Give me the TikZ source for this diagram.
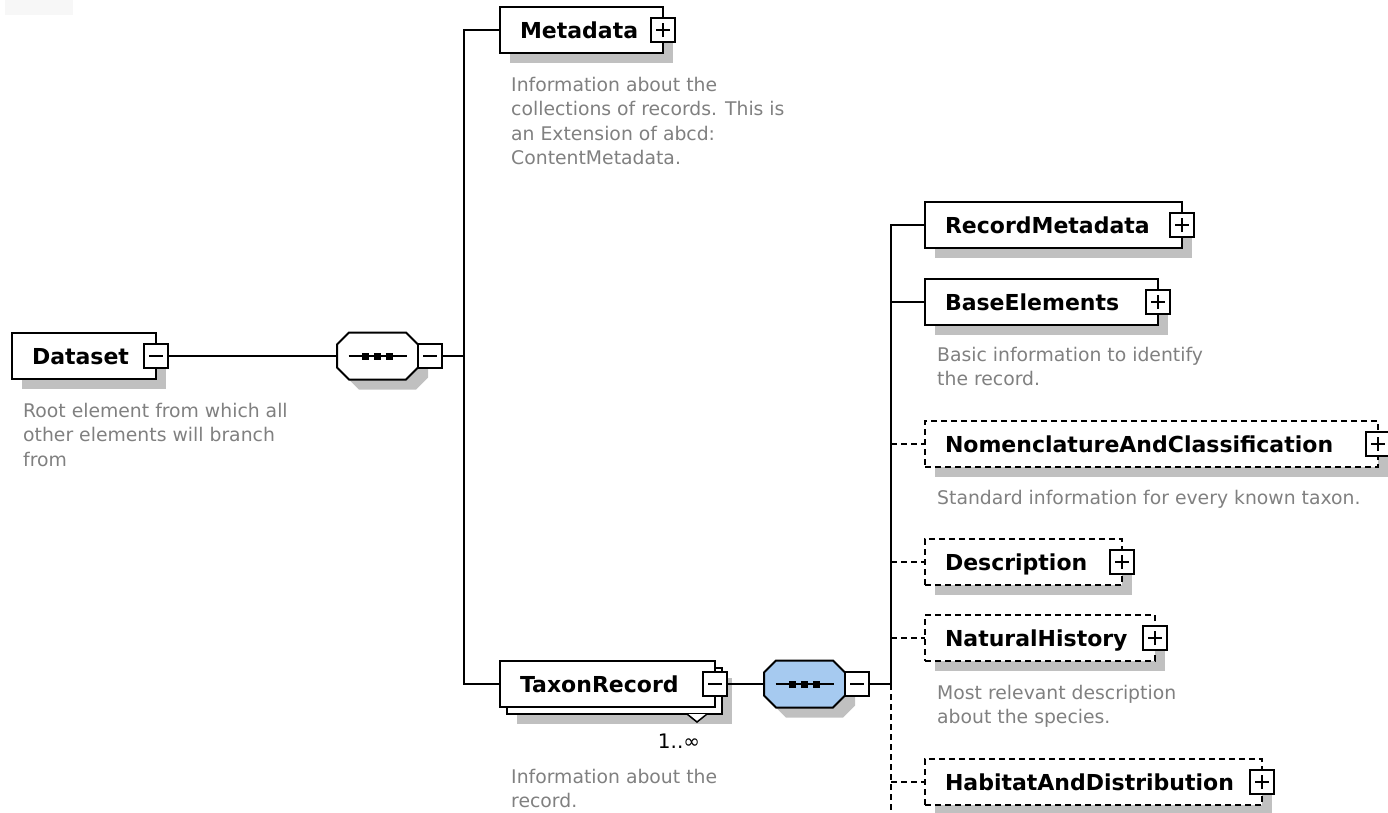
\documentclass[tikz,border=0pt]{standalone}
\usepackage{fontspec}
\setmainfont{DejaVu Sans}
\usetikzlibrary{shadows}

\definecolor{shgrey}{RGB}{192,192,192}
\definecolor{descgrey}{RGB}{128,128,128}
\definecolor{seqblue}{RGB}{166,202,240}
\definecolor{cornergrey}{RGB}{247,247,247}

% outline of a sequence compositor, left end at the origin
\newcommand\octoutline{(0,-11.5) -- ++(12,-12) -- ++(57,0) -- ++(12,12) -- ++(0,23) -- ++(-12,12) -- ++(-57,0) -- ++(-12,-12) -- cycle}

\tikzset{
  conn/.style={line width=2pt},
  optconn/.style={line width=2pt, dash pattern=on 6pt off 4pt},
  boxshadow/.style={drop shadow={shadow xshift=10pt, shadow yshift=-10pt, fill=shgrey, opacity=1}},
  elemplain/.style={draw, line width=2pt, fill=white, anchor=west, minimum height=46pt,
    inner xsep=20pt, inner ysep=0pt, outer sep=0pt, text height=16pt, text depth=0pt,
    align=left, font=\fontsize{22}{26}\selectfont\bfseries},
  elem/.style={elemplain, boxshadow},
  optelem/.style={elem, dash pattern=on 6pt off 4pt},
  togglebox/.style={draw, fill=white, line width=2pt, minimum size=24pt, inner sep=0pt, outer sep=0pt},
  toggleminus/.style={togglebox,
    path picture={\draw[line width=2pt] ([xshift=-7pt]path picture bounding box.center) -- ([xshift=7pt]path picture bounding box.center);}},
  toggleplus/.style={togglebox,
    path picture={\draw[line width=2pt] ([xshift=-7pt]path picture bounding box.center) -- ([xshift=7pt]path picture bounding box.center)
      ([yshift=-7pt]path picture bounding box.center) -- ([yshift=7pt]path picture bounding box.center);}},
  seqmark/.style={rectangle, minimum width=81pt, minimum height=47pt, inner sep=0pt, outer sep=0pt, anchor=west,
    path picture={
      \draw[line width=2pt] ([xshift=-29pt]path picture bounding box.center) -- ([xshift=29pt]path picture bounding box.center);
      \foreach \dx in {-15.5,-3.5,8.5}{
        \fill ([xshift=\dx pt, yshift=-3.5pt]path picture bounding box.center) rectangle ++(7pt,7pt);}
    }},
  desc/.style={anchor=base west, align=left, inner sep=0pt, text=descgrey,
    font=\fontsize{18.8}{24.5}\selectfont},
}

\begin{document}
\begin{tikzpicture}[x=1pt,y=-1pt]
\useasboundingbox (0,0) rectangle (1388,812);
\fill[cornergrey] (5,0) rectangle (73,15);

% root element and its sequence
\node[elem, text width=104pt] (dataset) at (12,356) {Dataset};
\node[toggleminus] (dataset-tg) at (dataset.east) {};
\node[desc] (dataset-doc) at (23,466) {Root element from which all\\other elements will branch\\from};

\fill[shgrey, shift={(347,366)}] \octoutline;
\draw[conn, fill=white, shift={(337,356)}] \octoutline;
\node[seqmark] (seq1) at (337,356) {};
\node[toggleminus, anchor=west] (seq1-tg) at (seq1.east) {};

% children of Dataset
\node[elem, text width=123pt] (metadata) at (500,30) {Metadata};
\node[toggleplus] (metadata-tg) at (metadata.east) {};
\node[desc] (metadata-doc) at (511,164.5) {Information about the\\collections of records. This is\\an Extension of abcd:\\ContentMetadata.};

\node[elem, text width=175pt] (taxon-back) at (507,691) {};
\node[elemplain, text width=175pt] (taxon) at (500,684) {TaxonRecord};
\node[toggleminus] (taxon-tg) at (taxon.east) {};
\draw[line width=1.5pt, fill=white] (687,714) -- (697,722) -- (707,714);
\node[inner sep=0pt, font=\fontsize{20}{24}\selectfont] (taxon-occ) at (679,741) {1..∞};
\node[desc] (taxon-doc) at (511,807.5) {Information about the\\record.};

\fill[shgrey, shift={(774,694)}] \octoutline;
\draw[conn, fill=seqblue, shift={(764,684)}] \octoutline;
\node[seqmark] (seq2) at (764,684) {};
\node[toggleminus, anchor=west] (seq2-tg) at (seq2.east) {};

% children of TaxonRecord
\node[elem, text width=217pt] (recmeta) at (925,225) {RecordMetadata};
\node[toggleplus] (recmeta-tg) at (recmeta.east) {};

\node[elem, text width=193pt] (baseel) at (925,302) {BaseElements};
\node[toggleplus] (baseel-tg) at (baseel.east) {};
\node[desc] (baseel-doc) at (937,385.5) {Basic information to identify\\the record.};

\node[optelem, text width=413pt] (nomen) at (925,444) {NomenclatureAndClassification};
\node[toggleplus] (nomen-tg) at (nomen.east) {};
\node[desc] (nomen-doc) at (937,504) {Standard information for every known taxon.};

\node[optelem, text width=157pt] (descr) at (925,562) {Description};
\node[toggleplus] (descr-tg) at (descr.east) {};

\node[optelem, text width=190pt] (natural) at (925,638) {NaturalHistory};
\node[toggleplus] (natural-tg) at (natural.east) {};
\node[desc] (natural-doc) at (937,723.5) {Most relevant description\\about the species.};

\node[optelem, text width=297pt] (habitat) at (925,782) {HabitatAndDistribution};
\node[toggleplus] (habitat-tg) at (habitat.east) {};

% connectors
\coordinate (busA) at (464,684);
\coordinate (busB) at (891,684);
\coordinate (busB-end) at (891,812);

\draw[conn] (dataset-tg.east) -- (seq1.west);
\draw[conn] (seq1-tg.east) -- (seq1-tg.east -| busA);
\draw[conn] (metadata.west) -| (busA) -- (taxon.west);
\draw[conn] (taxon-tg.east) -- (seq2.west);
\draw[conn] (seq2-tg.east) -- (busB);
\draw[conn] (recmeta.west) -| (busB);
\draw[conn] (baseel.west) -- (baseel.west -| busB);
\draw[optconn] (busB) -- (busB-end);
\foreach \n in {nomen,descr,natural,habitat}
  \draw[optconn] (\n.west -| busB) -- (\n.west);
\end{tikzpicture}
\end{document}
